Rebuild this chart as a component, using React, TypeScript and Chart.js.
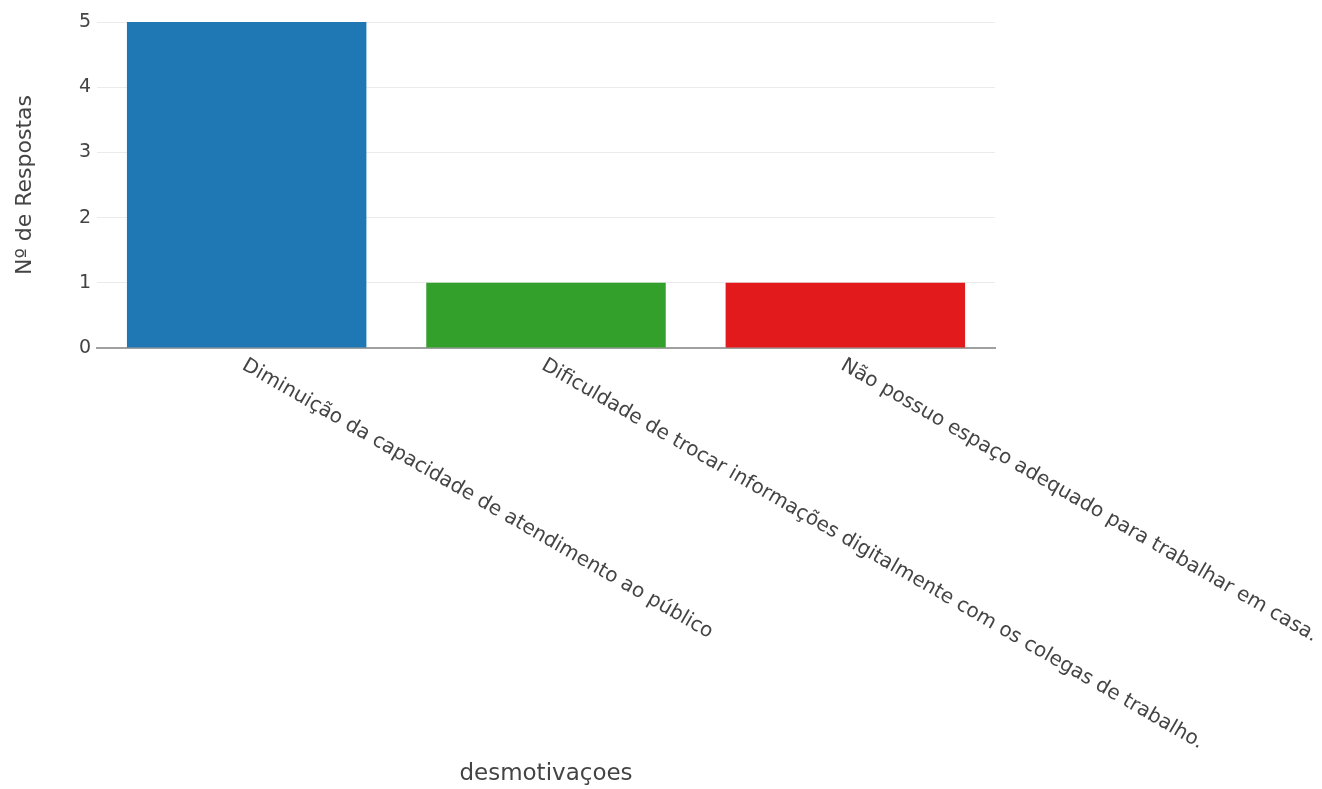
import React, { useEffect, useRef } from "react";
import { Chart, registerables } from "chart.js";

Chart.register(...registerables);

// Survey answers: reasons for lower motivation
const categories = [
  "Diminuição da capacidade de atendimento ao público",
  "Dificuldade de trocar informações digitalmente com os colegas de trabalho.",
  "Não possuo espaço adequado para trabalhar em casa.",
];
const respostas = [5, 1, 1];
const barColors = ["#1f78b4", "#33a02c", "#e31a1c"];
const yTickValues = [0, 1, 2, 3, 4, 5];

const FONT = "'DejaVu Sans', Verdana, sans-serif";
const TEXT_COLOR = "#444";

// Draws the category labels slanting down to the right, starting at each tick
const slantedLabels = {
  id: "slantedLabels",
  afterDraw(chart: any) {
    const { ctx } = chart;
    const xScale = chart.scales.x;
    ctx.save();
    ctx.font = `20px ${FONT}`;
    ctx.fillStyle = TEXT_COLOR;
    ctx.textAlign = "left";
    ctx.textBaseline = "middle";
    categories.forEach((label, i) => {
      const x = xScale.getPixelForValue(i);
      const y = xScale.top;
      ctx.save();
      ctx.translate(x - 3, y + 16);
      ctx.rotate((30 * Math.PI) / 180);
      ctx.fillText(label, 0, 0);
      ctx.restore();
    });
    ctx.restore();
  },
};

export default function App() {
  const canvasRef = useRef<HTMLCanvasElement | null>(null);

  useEffect(() => {
    if (!canvasRef.current) return;
    const chart = new Chart(canvasRef.current, {
      type: "bar",
      data: {
        labels: categories,
        datasets: [
          {
            data: respostas,
            backgroundColor: barColors,
            borderWidth: 0,
            categoryPercentage: 1,
            barPercentage: 0.8,
          },
        ],
      },
      options: {
        animation: false,
        responsive: false,
        layout: { padding: { top: 22, right: 327, left: 0, bottom: 0 } },
        plugins: { legend: { display: false }, tooltip: { enabled: false } },
        scales: {
          x: {
            grid: { display: false, drawTicks: false },
            border: { display: true, color: "#a0a0a0", width: 2 },
            ticks: { display: false },
            title: {
              display: true,
              text: "desmotivaçoes",
              color: TEXT_COLOR,
              font: { family: FONT, size: 23 },
              padding: { top: 0, bottom: 1 },
            },
            afterFit(scale: any) {
              scale.height = 441;
            },
          },
          y: {
            min: 0,
            max: 5,
            afterBuildTicks(scale: any) {
              scale.ticks = yTickValues.map((v) => ({ value: v }));
            },
            grid: { color: "#ebebeb", lineWidth: 1, drawTicks: false },
            border: { display: false },
            ticks: {
              color: TEXT_COLOR,
              font: { family: FONT, size: 19 },
              padding: 6,
            },
            title: {
              display: true,
              text: "Nº de Respostas",
              color: TEXT_COLOR,
              font: { family: FONT, size: 22 },
              padding: { top: 12, bottom: 0 },
            },
            afterFit(scale: any) {
              scale.width = 97;
            },
          },
        },
      },
      plugins: [slantedLabels],
    });
    return () => chart.destroy();
  }, []);

  return (
    <div style={{ position: "fixed", left: 0, top: 0, width: 1322, height: 789, background: "#fff" }}>
      <canvas ref={canvasRef} width={1322} height={789} />
    </div>
  );
}
